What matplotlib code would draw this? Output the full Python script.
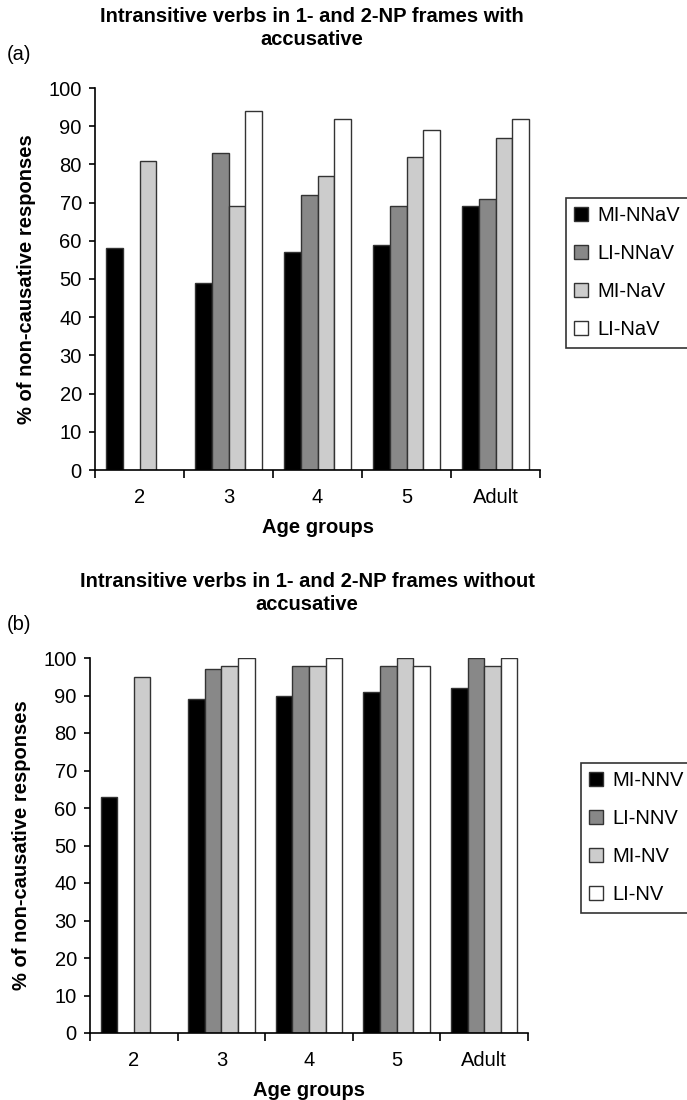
import numpy as np
import matplotlib
matplotlib.use("Agg")
import matplotlib.pyplot as plt
from matplotlib.patches import Patch

plt.rcParams['font.family'] = ['Liberation Sans', 'DejaVu Sans']

groups = ["2", "3", "4", "5", "Adult"]

# (a) with accusative
labelsA = ["MI-NNaV", "LI-NNaV", "MI-NaV", "LI-NaV"]
mi_nnav = [58, 49, 57, 59, 69]
li_nnav = [np.nan, 83, 72, 69, 71]
mi_nav = [81, 69, 77, 82, 87]
li_nav = [np.nan, 94, 92, 89, 92]

# (b) without accusative
labelsB = ["MI-NNV", "LI-NNV", "MI-NV", "LI-NV"]
mi_nnv = [63, 89, 90, 91, 92]
li_nnv = [np.nan, 97, 98, 98, 100]
mi_nv = [95, 98, 98, 100, 98]
li_nv = [np.nan, 100, 100, 98, 100]

colors = ["#000000", "#888888", "#cccccc", "#ffffff"]
FS = 14.5

fig = plt.figure(figsize=(6.87, 11), dpi=100)


def draw(rect, series, labels, title, tag, tag_y, title_xy, leg_xy):
    ax = fig.add_axes(rect)
    x = np.arange(len(groups)) + 0.5
    w = 0.19
    for i, vals in enumerate(series):
        ax.bar(x + (i - 1.5) * w, vals, w, color=colors[i],
               edgecolor="#333333", linewidth=1.0)
    ax.set_xlim(0, 5)
    ax.set_ylim(0, 100)
    ax.set_yticks(range(0, 101, 10))
    ax.set_xticks(x)
    ax.set_xticklabels(groups)
    ax.set_xticks(np.arange(0, 6), minor=True)
    ax.tick_params(axis="x", which="major", length=0, pad=13, labelsize=FS)
    ax.tick_params(axis="x", which="minor", length=6, width=1.2, direction="out")
    ax.tick_params(axis="y", length=4.5, width=1.2, direction="out", labelsize=FS, pad=5)
    for s in ["top", "right"]:
        ax.spines[s].set_visible(False)
    for s in ["left", "bottom"]:
        ax.spines[s].set_linewidth(1.2)
    ax.set_xlabel("Age groups", fontsize=FS, fontweight="bold", labelpad=8)
    ax.set_ylabel("% of non-causative responses", fontsize=FS, fontweight="bold", labelpad=9)
    fig.text(title_xy[0], title_xy[1], title, ha="center", va="center", fontsize=FS,
             fontweight="bold", linespacing=1.25)
    fig.text(0.01, tag_y, tag, ha="left", va="center", fontsize=FS)
    handles = [Patch(facecolor=colors[i], edgecolor="#333333", linewidth=1.0)
               for i in range(4)]
    leg = fig.legend(handles, labels, loc="upper left", bbox_to_anchor=leg_xy,
                     fontsize=FS, frameon=True, fancybox=False, labelspacing=0.95,
                     handlelength=0.7, handleheight=0.7, handletextpad=0.45,
                     borderpad=0.4, borderaxespad=0)
    leg.get_frame().set_edgecolor("black")
    leg.get_frame().set_linewidth(1.2)
    return ax


draw([95 / 687, 1 - 470 / 1100, 445 / 687, 382 / 1100],
     [mi_nnav, li_nnav, mi_nav, li_nav], labelsA,
     "Intransitive verbs in 1- and 2-NP frames with\naccusative",
     "(a)", 1 - 55 / 1100, (312 / 687, 1 - 28 / 1100), (566 / 687, 1 - 198 / 1100))

draw([90 / 687, 1 - 1033 / 1100, 438 / 687, 375 / 1100],
     [mi_nnv, li_nnv, mi_nv, li_nv], labelsB,
     "Intransitive verbs in 1- and 2-NP frames without\naccusative",
     "(b)", 1 - 625 / 1100, (307 / 687, 1 - 593 / 1100), (581 / 687, 1 - 763 / 1100))

fig.savefig("out.png", dpi=100)
